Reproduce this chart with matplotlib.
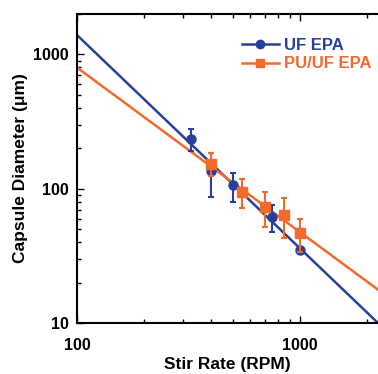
import numpy as np
import matplotlib
matplotlib.use("Agg")
import matplotlib.pyplot as plt
from matplotlib.ticker import LogLocator, NullFormatter, FixedLocator, FixedFormatter
from matplotlib.lines import Line2D

plt.rcParams['font.family'] = ['Liberation Sans', 'DejaVu Sans']
plt.rcParams['font.weight'] = 'bold'

# Data
uf_rpm = [325, 400, 500, 750, 1000]
uf_diam = [236, 135, 106, 62, 35]
uf_err = [44, 48, 26, 14, 2]

pu_rpm = [400, 550, 700, 850, 1000]
pu_diam = [154, 95, 73, 64, 47]
pu_err = [30, 23, 21, 21, 13]

# Power-law fits: d = A * rpm^(-k)
uf_fit = (2.09e6, 1.588)
pu_fit = (2.25e5, 1.225)

blue = '#27409B'
orange = '#F26A2C'

fig = plt.figure(figsize=(3.78, 3.74), dpi=100)
ax = fig.add_axes([77/378, 1-323/374, 1-77/378, (323-14)/374])

xx = np.logspace(2, np.log10(2240), 200)
ax.plot(xx, uf_fit[0]*xx**(-uf_fit[1]), color=blue, lw=1.8, zorder=2)
ax.plot(xx, pu_fit[0]*xx**(-pu_fit[1]), color=orange, lw=1.8, zorder=2)

ax.errorbar(uf_rpm, uf_diam, yerr=uf_err, fmt='o', color=blue, ms=6.5,
            capsize=2.5, elinewidth=1.5, capthick=1.5, zorder=3)
ax.errorbar(pu_rpm, pu_diam, yerr=pu_err, fmt='s', color=orange, ms=6.5,
            capsize=2.5, elinewidth=1.5, capthick=1.5, zorder=4)

ax.set_xscale('log')
ax.set_yscale('log')
ax.set_xlim(100, 2240)
ax.set_ylim(10, 2000)

ax.xaxis.set_major_locator(FixedLocator([100, 1000]))
ax.xaxis.set_major_formatter(FixedFormatter(['100', '1000']))
ax.yaxis.set_major_locator(FixedLocator([10, 100, 1000]))
ax.yaxis.set_major_formatter(FixedFormatter(['10', '100', '1000']))
ax.xaxis.set_minor_locator(LogLocator(base=10, subs=np.arange(2, 10)))
ax.yaxis.set_minor_locator(LogLocator(base=10, subs=np.arange(2, 10)))
ax.xaxis.set_minor_formatter(NullFormatter())
ax.yaxis.set_minor_formatter(NullFormatter())

ax.spines['right'].set_visible(False)
for s in ['left', 'bottom', 'top']:
    ax.spines[s].set_linewidth(1.5)
ax.tick_params(which='both', direction='in', top=True, right=False, width=1.0)
ax.tick_params(which='major', length=5, labelsize=11.5)
ax.tick_params(axis='x', which='major', pad=11)
ax.tick_params(axis='y', which='major', pad=6)
ax.tick_params(which='minor', length=3)
for lab in ax.get_xticklabels() + ax.get_yticklabels():
    lab.set_fontweight('bold')

ax.set_xlabel('Stir Rate (RPM)', fontsize=12.5, fontweight='bold', labelpad=3)
ax.set_ylabel('Capsule Diameter (μm)', fontsize=12.5, fontweight='bold')
ax.yaxis.set_label_coords(-0.163, 0.5)

h1 = Line2D([], [], color=blue, marker='o', lw=1.8, ms=6)
h2 = Line2D([], [], color=orange, marker='s', lw=1.8, ms=6)
leg = ax.legend([h1, h2], ['UF EPA', 'PU/UF EPA'], loc='upper left',
                bbox_to_anchor=(0.548, 0.922), frameon=False, fontsize=12,
                handlelength=2.2, handletextpad=0.3, labelspacing=0.2,
                borderaxespad=0, borderpad=0)
for t, c in zip(leg.get_texts(), [blue, orange]):
    t.set_color(c)
    t.set_fontweight('bold')

fig.savefig('out.png', dpi=100)
